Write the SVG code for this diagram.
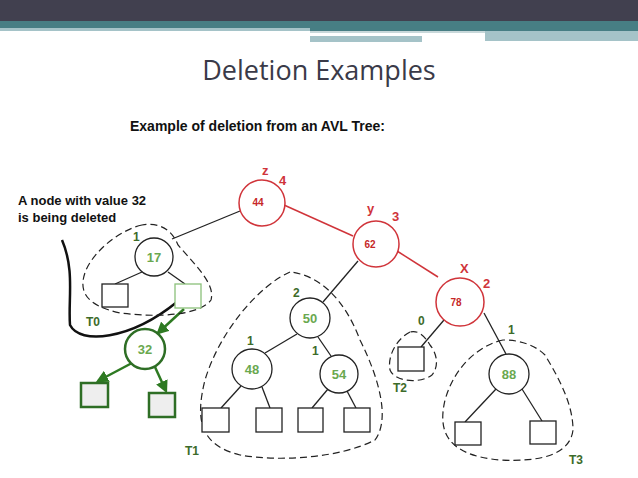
<svg xmlns="http://www.w3.org/2000/svg" width="638" height="478" viewBox="0 0 638 478">
<style>
.n{fill:#fff;stroke:#222;stroke-width:1.3}
.r{fill:#fff;stroke:#d0343a;stroke-width:1.5}
.g{fill:#fff;stroke:#2e6e25;stroke-width:2.5}
.sq{fill:#fff;stroke:#222;stroke-width:1.3}
.gsq{fill:#eee;stroke:#2e6e25;stroke-width:2.5}
.e{stroke:#222;stroke-width:1.3;fill:none}
.re{stroke:#d0343a;stroke-width:1.5;fill:none}
.ge{stroke:#2e7a22;stroke-width:2.5;fill:none;marker-end:url(#ah)}
.d{stroke:#222;stroke-width:1.2;fill:none;stroke-dasharray:7,4}
text{font-family:"Liberation Sans",Arial,sans-serif;font-weight:bold}
.lg{fill:#6aa84f;font-size:13px;text-anchor:middle}
.lr{fill:#c62828;font-size:10px;text-anchor:middle}
.hr{fill:#d0343a;font-size:13px}
.hg{fill:#3d6b2a;font-size:12px}
</style>
<defs>
<marker id="ah" viewBox="0 0 10 10" refX="8" refY="5" markerWidth="5" markerHeight="5" orient="auto"><path d="M0,0L10,5L0,10z" fill="#2e7a22"/></marker>
</defs>
<rect x="0" y="0" width="638" height="21" fill="#41404f"/>
<rect x="0" y="21" width="638" height="7" fill="#477e84"/>
<rect x="0" y="28" width="310" height="3" fill="#a5c3c8"/>
<rect x="310" y="28" width="328" height="3" fill="#477e84"/>
<rect x="310" y="31" width="175" height="2" fill="#c8d8da"/>
<rect x="485" y="31" width="153" height="10" fill="#a5c3c8"/>
<rect x="310" y="36" width="112" height="6" fill="#a5c3c8"/>
<text x="319" y="80" text-anchor="middle" style="font-family:'Open Sans','Liberation Sans',sans-serif;font-weight:normal;font-size:27px;fill:#3a3a48">Deletion Examples</text>
<text x="130" y="131" style="font-size:14px;fill:#111">Example of deletion from an AVL Tree:</text>
<text x="18" y="205" style="font-size:13px;fill:#111">A node with value 32</text>
<text x="18" y="222" style="font-size:13px;fill:#111">is being deleted</text>
<g id="connectors">
<line class="re" x1="284" y1="205" x2="353" y2="236"/>
<line class="re" x1="397" y1="251" x2="438" y2="277"/>
<line class="e" x1="240" y1="211" x2="172" y2="239"/>
<line class="e" x1="142" y1="272" x2="115" y2="284"/>
<line class="e" x1="168" y1="272" x2="185" y2="284"/>
<line class="e" x1="358" y1="261" x2="323" y2="302"/>
<line class="e" x1="297" y1="334" x2="265" y2="353"/>
<line class="e" x1="318" y1="337" x2="331" y2="356"/>
<line class="e" x1="241" y1="386" x2="221" y2="408"/>
<line class="e" x1="262" y1="387" x2="270" y2="408"/>
<line class="e" x1="328" y1="389" x2="312" y2="408"/>
<line class="e" x1="347" y1="391" x2="356" y2="408"/>
<line class="e" x1="444" y1="320" x2="421" y2="347"/>
<line class="e" x1="484" y1="313" x2="506" y2="354"/>
<line class="e" x1="496" y1="389" x2="465" y2="422"/>
<line class="e" x1="522" y1="389" x2="542" y2="421"/>
<line class="ge" x1="184" y1="309" x2="158" y2="333"/>
<line class="ge" x1="132" y1="363" x2="98" y2="381"/>
<line class="ge" x1="155" y1="367" x2="166" y2="391"/>
<path d="M62,240 C75,270 68,300 70,325 C80,345 130,340 177,302" fill="none" stroke="#111" stroke-width="2.5"/>
<path class="d" d="M142,225 C120,230 95,250 86,270 C78,290 84,305 120,313 C160,318 200,315 211,300 C215,285 200,270 178,245 C172,230 160,222 142,225z"/>
<path class="d" d="M290,272 C260,285 220,330 205,380 C195,420 200,445 240,455 C280,462 340,458 375,440 C390,420 380,380 360,340 C345,300 320,275 290,272z"/>
<path class="d" d="M410,332 C398,338 387,355 390,370 C395,382 420,384 432,375 C440,365 436,352 430,345 C424,335 418,330 410,332z"/>
<path class="d" d="M503,340 C480,345 455,365 445,400 C438,430 445,455 500,460 C540,462 570,455 573,430 C573,405 560,380 545,355 C535,345 520,340 503,340z"/>
</g>
<g id="n44"><circle class="r" cx="262" cy="203" r="23"/><text class="lr" x="258" y="206">44</text></g>
<g id="n62"><circle class="r" cx="376" cy="244" r="23"/><text class="lr" x="370" y="248">62</text></g>
<g id="n78"><circle class="r" cx="460" cy="302" r="24"/><text class="lr" x="456" y="306">78</text></g>
<g id="n17"><circle class="n" cx="154" cy="257" r="19"/><text class="lg" x="154" y="262">17</text></g>
<g id="n50"><circle class="n" cx="310" cy="318" r="20"/><text class="lg" x="310" y="323">50</text></g>
<g id="n48"><circle class="n" cx="252" cy="369" r="20"/><text class="lg" x="252" y="374">48</text></g>
<g id="n54"><circle class="n" cx="339" cy="374" r="19"/><text class="lg" x="339" y="379">54</text></g>
<g id="n88"><circle class="n" cx="509" cy="374" r="20"/><text class="lg" x="509" y="379">88</text></g>
<g id="n32"><circle class="g" cx="145" cy="349" r="20"/><text class="lg" x="145" y="354">32</text></g>
<g id="leaves">
<rect class="sq" x="102" y="284" width="26" height="23"/>
<rect x="175" y="284" width="26" height="24" fill="#fff" stroke="#8bc17a" stroke-width="1.3"/>
<rect class="gsq" x="81" y="383" width="27" height="24"/>
<rect class="gsq" x="149" y="393" width="26" height="24"/>
<rect class="sq" x="202" y="408" width="27" height="24"/>
<rect class="sq" x="256" y="408" width="26" height="24"/>
<rect class="sq" x="298" y="408" width="25" height="24"/>
<rect class="sq" x="344" y="408" width="26" height="24"/>
<rect class="sq" x="398" y="347" width="26" height="24"/>
<rect class="sq" x="455" y="422" width="26" height="23"/>
<rect class="sq" x="530" y="421" width="26" height="23"/>
</g>
<g id="labels">
<text class="hr" x="262" y="175">z</text><text class="hr" x="279" y="185">4</text>
<text class="hr" x="367" y="213">y</text><text class="hr" x="392" y="221">3</text>
<text class="hr" x="460" y="273">X</text><text class="hr" x="483" y="288">2</text>
<text class="hg" x="418" y="325">0</text><text class="hg" x="508" y="334">1</text>
<text class="hg" x="293" y="297">2</text><text class="hg" x="247" y="345">1</text>
<text class="hg" x="312" y="355">1</text><text class="hg" x="133" y="241">1</text>
<text class="hg" x="86" y="326">T0</text><text class="hg" x="185" y="455">T1</text>
<text class="hg" x="393" y="392">T2</text><text class="hg" x="569" y="464">T3</text>
</g>
</svg>
